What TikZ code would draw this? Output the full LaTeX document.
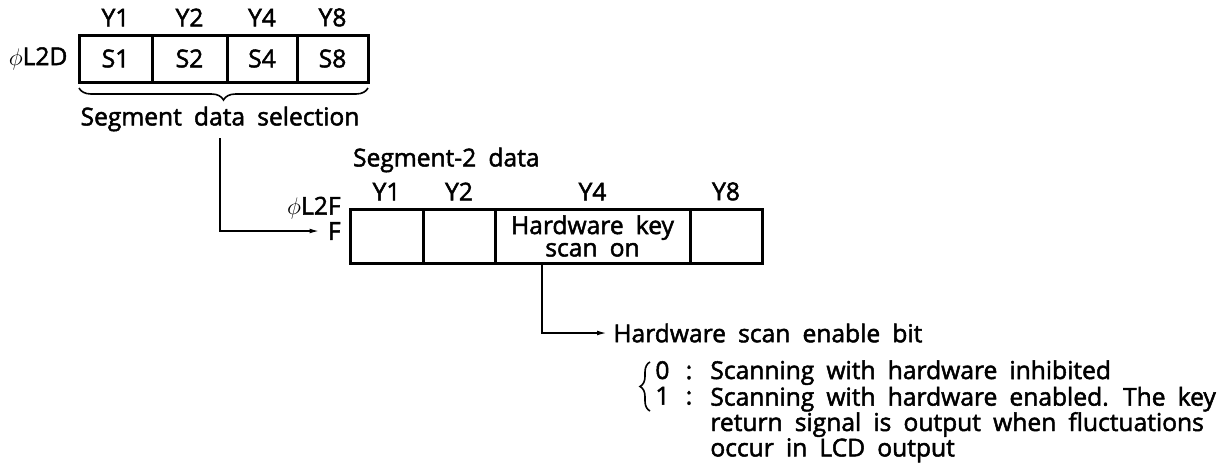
\documentclass[tikz,border=0pt]{standalone}
\usepackage{fontspec}
\newfontfamily\diagfont{Open Sans}[WordSpace=1.9,FakeBold=2]
\usetikzlibrary{arrows.meta,positioning,calc,decorations.pathreplacing}

\begin{document}
\begin{tikzpicture}[x=0.5pt,y=-0.5pt,>={Latex[length=5pt,width=2.4pt]},
  font=\diagfont\fontsize{12.3}{12.7}\selectfont,
  cell/.style={draw,line width=1.5pt,inner sep=0pt},
  topcell/.style={cell,minimum height=23.5pt},
  botcell/.style={cell,minimum height=27pt},
  ylabel/.style={above=0pt of #1},
  wire/.style={line width=0.8pt},
  brace/.style={decorate,decoration={brace,amplitude=#1},line width=0.8pt}]
  \useasboundingbox (0,0) rectangle (1219,472);
  % segment data selection register
  \node[topcell,minimum width=36.5pt] (s1) at (115.5,58.5) {S1};
  \node[topcell,minimum width=37.5pt] (s2) at (189.5,58.5) {S2};
  \node[topcell,minimum width=35pt] (s4) at (262,58.5) {S4};
  \node[topcell,minimum width=35.5pt] (s8) at (332.5,58.5) {S8};
  \foreach \c/\y in {s1/Y1,s2/Y2,s4/Y4,s8/Y8}
    \node[ylabel=\c] {\y};
  \node[left=1.5pt of s1] (l2d) {$\phi$L2D};
  \draw[brace=6pt,decoration={mirror}] (79,88) -- (368,88);
  \node (seldata) at (220,119) {Segment data selection};
  % segment-2 data register
  \node[anchor=west] (seg2) at (346,160) {Segment-2 data};
  \node[botcell,minimum width=36.5pt] (b1) at (386.5,236) {};
  \node[botcell,minimum width=36pt] (b2) at (459,236) {};
  \node[botcell,minimum width=97.5pt,align=center,
    font=\diagfont\fontsize{12.3}{11.2}\selectfont] (hw) at (592.5,236) {Hardware key\\scan on};
  \node[botcell,minimum width=36pt] (b8) at (726,236) {};
  \foreach \c/\y in {b1/Y1,b2/Y2,hw/Y4,b8/Y8}
    \node[ylabel=\c] {\y};
  \node[anchor=east,inner sep=0pt] (l2f) at (341,208) {$\phi$L2F};
  \node[anchor=east,inner sep=0pt] (fin) at (341,231) {F};
  \draw[wire,->] (seldata.south) |- ([xshift=-4pt]fin.west);
  % enable bit
  \coordinate (tap) at ($(hw.south west)!.245!(hw.south east)$);
  \node[anchor=west,inner sep=3pt] (enable) at (607,333) {Hardware scan enable bit};
  \draw[wire,->] (tap) |- (enable.west);
  \draw[brace=5pt] (650,411) -- (650,362);
  \node[anchor=base west,inner sep=0pt] (v0) at (655,379) {0};
  \node[anchor=base,inner sep=0pt] (c0) at (689,379) {:};
  \node[anchor=base west,inner sep=0pt] (t0) at (710,379) {Scanning with hardware inhibited};
  \node[anchor=base west,inner sep=0pt] (v1) at (655,404.5) {1};
  \node[anchor=base,inner sep=0pt] (c1) at (689,404.5) {:};
  \node[anchor=north west,inner sep=0pt,align=left,text depth=0pt] (t1) at (710,386.5)
    {Scanning with hardware enabled. The key\\return signal is output when fluctuations\\occur in LCD output};
\end{tikzpicture}
\end{document}
